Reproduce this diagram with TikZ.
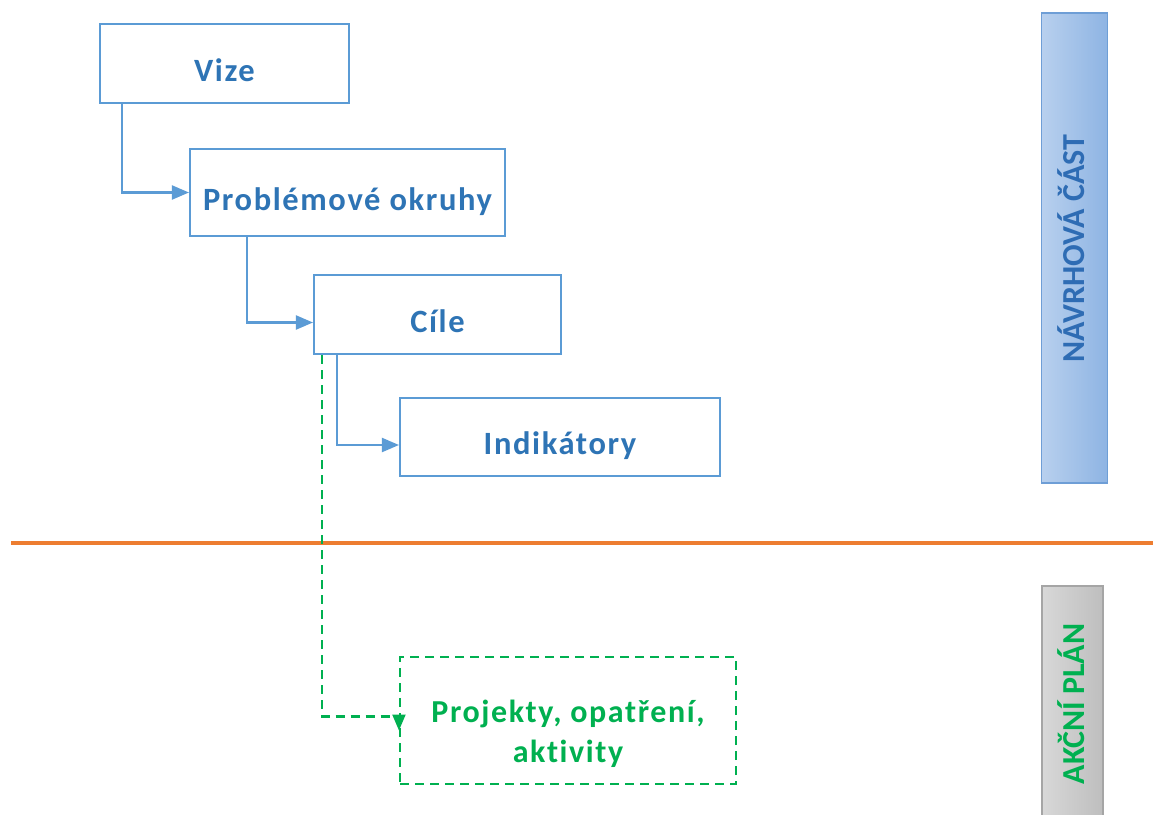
\documentclass[tikz,border=0pt]{standalone}
\usepackage{fontspec}
\setmainfont{Carlito}
\newfontfamily\boxfont[LetterSpace=5,Ligatures=NoCommon]{Carlito}
\usetikzlibrary{arrows.meta,calc}
\definecolor{boxblue}{HTML}{5B9BD5}
\definecolor{txtblue}{HTML}{2E74B5}
\definecolor{grn}{HTML}{00B050}
\definecolor{orng}{HTML}{ED7D31}
\tikzset{
  stepbox/.style={draw=boxblue, line width=2.1pt, fill=white, inner sep=0pt,
    text height=35pt, text depth=0pt,
    font=\boxfont\bfseries\fontsize{32.5}{38}\selectfont, text=txtblue},
  planbox/.style={draw=grn, line width=2.1pt, dash pattern=on 9pt off 6pt, inner sep=0pt,
    text height=86pt, text depth=2pt,
    font=\boxfont\bfseries\fontsize{32}{40}\selectfont, text=grn, align=center},
  blueconn/.style={draw=boxblue, line width=2.1pt, -{Triangle[length=17pt,width=14pt]}},
  greenconn/.style={draw=grn, line width=2.1pt, dash pattern=on 9pt off 6pt, -{Triangle[length=16pt,width=13pt]}},
  sidebar/.style={line width=1.8pt, inner sep=0pt},
  sidetext/.style={rotate=90, font=\bfseries\fontsize{32}{36}\selectfont}
}
\begin{document}
\begin{tikzpicture}[x=1pt,y=-1pt]
\useasboundingbox[fill=white] (0,0) rectangle (1153,814);
% side bars
\node[sidebar, draw={rgb,255:red,110;green,158;blue,214}, left color={rgb,255:red,184;green,208;blue,238}, right color={rgb,255:red,142;green,180;blue,227}, minimum width=66pt, minimum height=470pt] (navbar) at (1074.5,248) {};
\node[sidetext, text={rgb,255:red,46;green,108;blue,180}] (navtext) at (1071,248.5) {NÁVRHOVÁ ČÁST};
\node[sidebar, draw={rgb,255:red,165;green,165;blue,165}, left color={rgb,255:red,216;green,216;blue,216}, right color={rgb,255:red,190;green,190;blue,190}, minimum width=61pt, minimum height=240pt] (akbar) at (1072.5,706) {};
\node[sidetext, text=grn] (aktext) at (1071,704) {AKČNÍ PLÁN};
% orange divider
\coordinate (divL) at (11,543);
\coordinate (divR) at (1153,543);
\draw[orng, line width=3.8pt] (divL) -- (divR);
% boxes
\node[stepbox, minimum width=249pt, minimum height=79pt] (vize) at (224.5,63.5) {Vize};
\node[stepbox, minimum width=315pt, minimum height=87pt] (prob) at (347.5,192.5) {Problémové okruhy};
\node[stepbox, minimum width=247pt, minimum height=79pt] (cile) at (437.5,314.5) {Cíle};
\node[stepbox, minimum width=320pt, minimum height=78pt] (ind) at (560,437) {Indikátory};
\node[planbox, minimum width=336pt, minimum height=127pt] (proj) at (568,720.5) {Projekty, opatření,\\aktivity};
% connectors
\draw[blueconn] ($(vize.south west)+(23,0)$) |- (prob.west);
\draw[blueconn] ($(prob.south west)+(58,0)$) |- ([yshift=-8pt]cile.west);
\draw[blueconn] ($(cile.south west)+(24,0)$) |- ([yshift=-8pt]ind.west);
\draw[greenconn] ($(cile.south west)+(9,0)$) |- ([yshift=4pt]proj.west) -- ([yshift=-10pt]proj.west);
\end{tikzpicture}
\end{document}
